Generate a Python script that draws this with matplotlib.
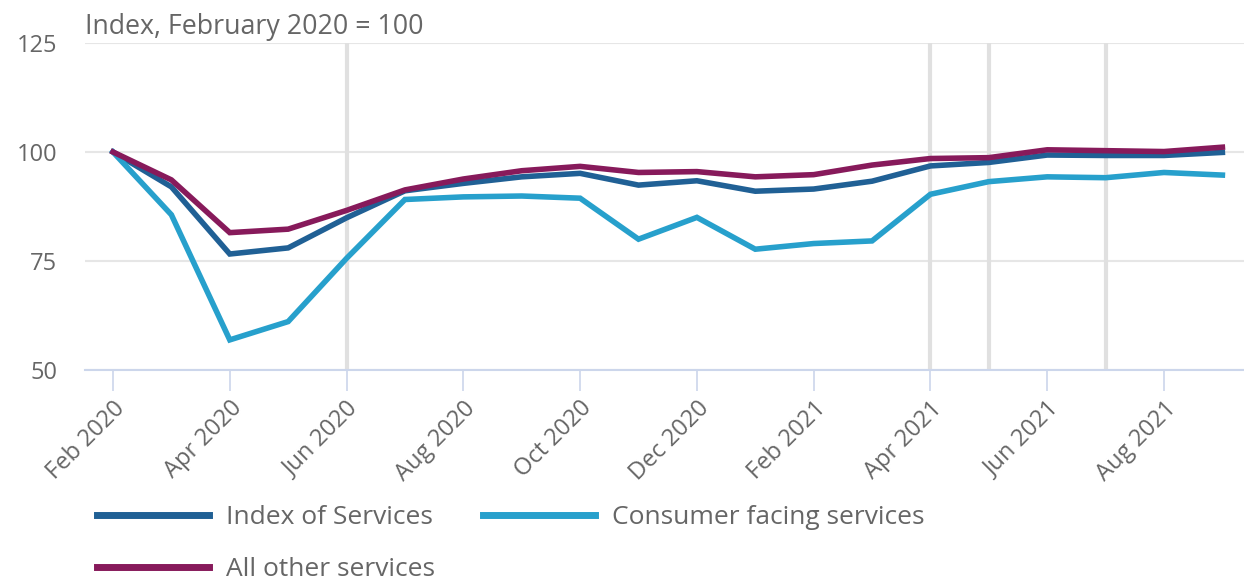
import numpy as np
import matplotlib.pyplot as plt

# --- Data (Feb 2020 = 100) ---
months = ["Feb 2020", "Mar 2020", "Apr 2020", "May 2020", "Jun 2020", "Jul 2020",
          "Aug 2020", "Sep 2020", "Oct 2020", "Nov 2020", "Dec 2020", "Jan 2021",
          "Feb 2021", "Mar 2021", "Apr 2021", "May 2021", "Jun 2021", "Jul 2021",
          "Aug 2021", "Sep 2021"]
index_of_services = [100.0, 92.0, 76.6, 78.0, 84.9, 91.1, 92.8, 94.3, 95.1, 92.4,
                     93.4, 91.0, 91.5, 93.3, 96.8, 97.6, 99.3, 99.2, 99.2, 99.9]
consumer_facing = [100.0, 85.6, 56.9, 61.1, 75.6, 89.1, 89.7, 89.9, 89.4, 80.0,
                   85.0, 77.7, 79.0, 79.6, 90.3, 93.2, 94.3, 94.1, 95.3, 94.7]
all_other = [100.0, 93.6, 81.5, 82.3, 86.6, 91.3, 93.8, 95.7, 96.7, 95.3,
             95.5, 94.3, 94.8, 97.0, 98.5, 98.7, 100.5, 100.3, 100.1, 101.1]
marker_months = ["Jun 2020", "Apr 2021", "May 2021", "Jul 2021"]
y_ticks = [50, 75, 100, 125]

FONT = ["Open Sans", "DejaVu Sans"]
TEXT_COLOR = "#666666"
plt.rcParams['font.family'] = FONT

fig = plt.figure(figsize=(12.44, 5.77), dpi=100)
ax = fig.add_axes([0.0683, 0.3588, 0.9317, 0.5667])

x = np.arange(len(months))

# vertical reference lines
for m in marker_months:
    ax.axvline(months.index(m), color="#e0e0e0", linewidth=3, zorder=1)

ax.plot(x, index_of_services, color="#206095", linewidth=4.0, label="Index of Services",
        zorder=3, solid_joinstyle="miter")
ax.plot(x, consumer_facing, color="#27a0cc", linewidth=4.0, label="Consumer facing services",
        zorder=3, solid_joinstyle="miter")
ax.plot(x, all_other, color="#871a5b", linewidth=4.0, label="All other services",
        zorder=4, solid_joinstyle="miter")

ax.set_xlim(-0.48, 19.37)
ax.set_ylim(50, 125)
ax.set_yticks(y_ticks)
ax.yaxis.grid(True, color="#e6e6e6", linewidth=1.5, zorder=0)
ax.set_axisbelow(True)

ax.set_xticks(x[::2])
ax.set_xticklabels(months[::2], rotation=45, ha="right", rotation_mode="anchor")

for s in ["top", "right", "left"]:
    ax.spines[s].set_visible(False)
ax.spines["bottom"].set_color("#ccd6eb")
ax.spines["bottom"].set_linewidth(1.5)
ax.tick_params(axis="x", length=15, width=1.2, color="#ccd6eb", labelsize=17,
               labelcolor=TEXT_COLOR, pad=4)
ax.tick_params(axis="y", length=0, labelsize=17, labelcolor=TEXT_COLOR, pad=20)

fig.text(0.0683, 0.953, "Index, February 2020 = 100", fontsize=19.3, color=TEXT_COLOR,
         va="center", ha="left")

handles, labels = ax.get_legend_handles_labels()
order = [0, 2, 1]
leg = fig.legend([handles[i] for i in order], [labels[i] for i in order],
                 loc="upper left", bbox_to_anchor=(0.078, 0.125), ncol=2, frameon=False,
                 fontsize=19, handlelength=4.25, handletextpad=0.65, columnspacing=1.8,
                 labelspacing=1.04, labelcolor=TEXT_COLOR, borderaxespad=0, borderpad=0)
for line in leg.get_lines():
    line.set_linewidth(5)

fig.savefig("out.png", dpi=100)
